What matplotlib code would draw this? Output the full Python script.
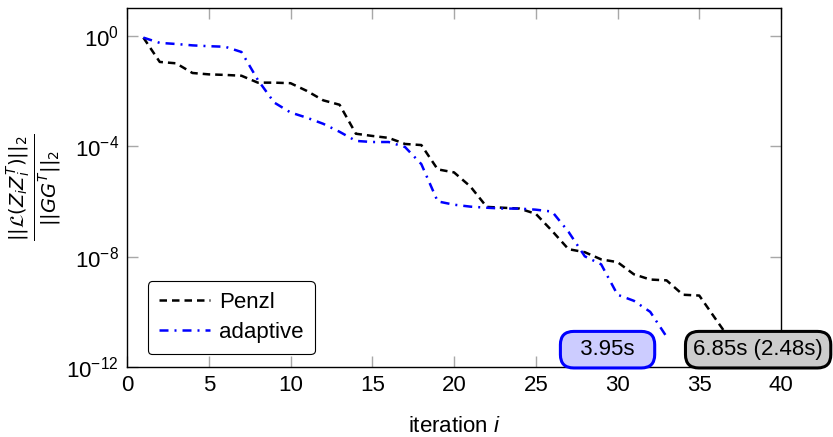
import matplotlib
matplotlib.use("Agg")
import matplotlib.pyplot as plt
import numpy as np

plt.rcParams["font.family"] = ["Liberation Sans", "DejaVu Sans"]
plt.rcParams["mathtext.fontset"] = "custom"
plt.rcParams["mathtext.rm"] = "Liberation Sans"
plt.rcParams["mathtext.it"] = "Liberation Sans:italic"
plt.rcParams["mathtext.bf"] = "Liberation Sans:bold"
plt.rcParams["font.size"] = 16

# Dados (log10 do resíduo relativo)
iter_penzl = list(range(1, 38))
log_penzl = [-0.07, -0.95, -1.0, -1.35, -1.4, -1.42, -1.45, -1.7, -1.7, -1.72,
             -2.0, -2.34, -2.5, -3.55, -3.63, -3.7, -3.92, -3.96, -4.84, -4.95,
             -5.46, -6.2, -6.23, -6.26, -6.45, -7.07, -7.73, -7.84, -8.1, -8.2,
             -8.64, -8.83, -8.86, -9.38, -9.41, -10.26, -11.1]

iter_adapt = list(range(1, 34))
log_adapt = [-0.07, -0.26, -0.3, -0.35, -0.38, -0.4, -0.59, -1.6, -2.42, -2.78,
             -2.97, -3.19, -3.48, -3.81, -3.85, -3.85, -4.03, -4.65, -6.0, -6.12,
             -6.19, -6.23, -6.26, -6.26, -6.3, -6.37, -7.1, -7.99, -8.28, -9.38,
             -9.6, -10.0, -10.9]

tempo_adapt = "3.95s"
tempo_penzl = "6.85s (2.48s)"

fig = plt.figure(figsize=(8.33, 4.37), dpi=100)
ax = fig.add_axes([0.1525, 0.160, 0.7851, 0.8215])

ax.plot(iter_penzl, 10.0 ** np.array(log_penzl), color="black", lw=1.8,
        dashes=(3, 2), label="Penzl")
ax.plot(iter_adapt, 10.0 ** np.array(log_adapt), color="blue", lw=1.8,
        dashes=(3.6, 2.4, 0.8, 2.4), label="adaptive")

ax.set_yscale("log")
ax.set_xlim(0, 40)
ax.set_ylim(1e-12, 10)
ax.set_xticks(range(0, 41, 5))
ax.set_yticks([1e-12, 1e-8, 1e-4, 1e0])
ax.yaxis.set_minor_locator(matplotlib.ticker.NullLocator())
ax.tick_params(which="both", direction="in", length=8, width=1, color="#a8a8a8",
               top=True, right=True, labelsize=16, pad=6)
for s in ax.spines.values():
    s.set_linewidth(1.0)

ax.set_xlabel("iteration $i$", fontsize=16, labelpad=14)
ax.set_ylabel(r"$\frac{||\mathcal{L}(Z_iZ_i^T)||_2}{||GG^T||_2}$", fontsize=20,
              labelpad=2, math_fontfamily="dejavusans")

leg = ax.legend(loc="lower left", bbox_to_anchor=(0.015, 0.005), fontsize=16,
                handlelength=2.3, handletextpad=0.4, borderpad=0.5,
                labelspacing=0.4, fancybox=True, framealpha=1)
leg.get_frame().set_edgecolor("black")
leg.get_frame().set_linewidth(0.8)

# Caixas com os tempos
ax.annotate("  " + tempo_adapt + "  ", xy=(29.39, 10 ** -11.37), ha="center",
            va="center", fontsize=16, annotation_clip=False,
            bbox=dict(boxstyle="round,pad=0.35,rounding_size=0.6",
                      fc="#ccccff", ec="blue", lw=2.2))
ax.annotate(tempo_penzl, xy=(38.6, 10 ** -11.37), ha="center", va="center",
            fontsize=16, annotation_clip=False,
            bbox=dict(boxstyle="round,pad=0.35,rounding_size=0.6",
                      fc="#cccccc", ec="black", lw=2.2))

fig.savefig("out.png", dpi=100)
